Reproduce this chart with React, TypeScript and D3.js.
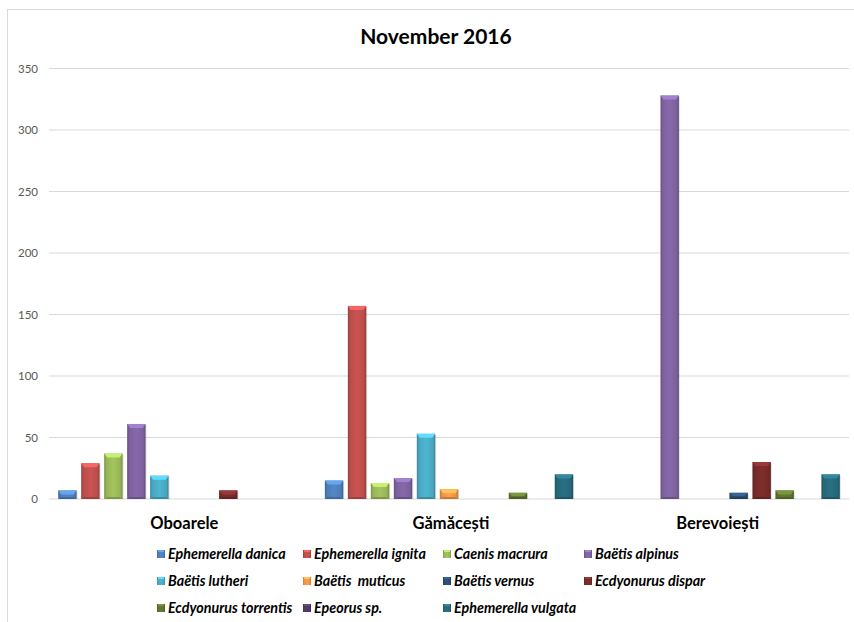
import React from "react";
import * as d3 from "d3";

// Sampling sites (x-axis categories)
const sites = ["Oboarele", "Gămăcești", "Berevoiești"];

// Species (series), in legend order
const species = [
  "Ephemerella danica",
  "Ephemerella ignita",
  "Caenis macrura",
  "Baëtis alpinus",
  "Baëtis lutheri",
  "Baëtis  muticus",
  "Baëtis vernus",
  "Ecdyonurus dispar",
  "Ecdyonurus torrentis",
  "Epeorus sp.",
  "Ephemerella vulgata",
];

// Counts per species, one value per site
const ephemerellaDanica = [7, 15, 0];
const ephemerellaIgnita = [29, 157, 0];
const caenisMacrura = [37, 13, 0];
const baetisAlpinus = [61, 17, 328];
const baetisLutheri = [19, 53, 0];
const baetisMuticus = [0, 8, 0];
const baetisVernus = [0, 0, 5];
const ecdyonurusDispar = [7, 0, 30];
const ecdyonurusTorrentis = [0, 5, 7];
const epeorusSp = [0, 0, 0];
const ephemerellaVulgata = [0, 20, 20];

const seriesValues = [
  ephemerellaDanica,
  ephemerellaIgnita,
  caenisMacrura,
  baetisAlpinus,
  baetisLutheri,
  baetisMuticus,
  baetisVernus,
  ecdyonurusDispar,
  ecdyonurusTorrentis,
  epeorusSp,
  ephemerellaVulgata,
];

const colors = [
  "#4F81BD",
  "#C0504D",
  "#9BBB59",
  "#8064A2",
  "#4BACC6",
  "#F79646",
  "#2C4D75",
  "#772C2A",
  "#5F7530",
  "#4D3B62",
  "#276A7C",
];

const yTicks = [0, 50, 100, 150, 200, 250, 300, 350];
const title = "November 2016";

const W = 854;
const H = 622;
const plot = { left: 49, right: 849, top: 68.5, bottom: 499 };
const FONT = "Lato, 'Open Sans', 'DejaVu Sans', sans-serif";

const legendCols = [157, 303, 443, 584];
const legendRows = [554, 581, 608];

export default function App() {
  const x0 = d3.scaleBand<string>().domain(sites).range([plot.left, plot.right]).padding(0);
  const x1 = d3
    .scaleBand<string>()
    .domain(species)
    .range([0, x0.bandwidth()])
    .paddingInner(0.2)
    .paddingOuter(0.4);
  const y = d3.scaleLinear().domain([0, 350]).range([plot.bottom, plot.top]);

  const bars: { key: string; x: number; w: number; top: number; i: number }[] = [];
  sites.forEach((site, si) => {
    species.forEach((sp, i) => {
      const v = seriesValues[i][si];
      if (v > 0) {
        bars.push({
          key: `${site}-${sp}`,
          x: (x0(site) ?? 0) + (x1(sp) ?? 0),
          w: x1.bandwidth(),
          top: y(v),
          i,
        });
      }
    });
  });

  return (
    <svg
      width={W}
      height={H}
      style={{ position: "absolute", left: 0, top: 0, background: "#fff" }}
      fontFamily={FONT}
    >
      <defs>
        {colors.map((c, i) => {
          const base = d3.color(c)!;
          return (
            <linearGradient key={i} id={`g${i}`} x1="0" x2="1" y1="0" y2="0">
              <stop offset="0" stopColor={base.darker(0.7).formatHex()} />
              <stop offset="0.12" stopColor={base.darker(0.1).formatHex()} />
              <stop offset="0.5" stopColor={base.brighter(0.15).formatHex()} />
              <stop offset="0.88" stopColor={base.darker(0.1).formatHex()} />
              <stop offset="1" stopColor={base.darker(0.8).formatHex()} />
            </linearGradient>
          );
        })}
      </defs>

      {/* chart frame */}
      <rect x={7.5} y={9.5} width={W + 20} height={H + 20} fill="none" stroke="#d9d9d9" strokeWidth={1} />

      {/* title */}
      <text x={436} y={44} textAnchor="middle" fontSize={21} fontWeight="bold" fill="#000">
        {title}
      </text>

      {/* gridlines and y tick labels */}
      {yTicks.map((t) => (
        <g key={t}>
          <line x1={plot.left} x2={plot.right} y1={y(t)} y2={y(t)} stroke="#d9d9d9" strokeWidth={1.2} />
          <text x={38} y={y(t) + 4} textAnchor="end" fontSize={11.5} fill="#595959">
            {t}
          </text>
        </g>
      ))}

      {/* bars with bevel look */}
      {bars.map((b) => {
        const c = d3.color(colors[b.i])!;
        const h = plot.bottom - b.top;
        const bev = Math.min(4, h / 2);
        return (
          <g key={b.key}>
            <rect x={b.x + 1} y={b.top + 1} width={b.w} height={h - 1} fill="#000" opacity={0.12} />
            <rect x={b.x} y={b.top} width={b.w} height={h} fill={`url(#g${b.i})`} />
            <polygon
              points={`${b.x},${b.top} ${b.x + b.w},${b.top} ${b.x + b.w - 3},${b.top + bev} ${b.x + 3},${b.top + bev}`}
              fill={c.brighter(0.7).formatHex()}
            />
            <polygon
              points={`${b.x},${plot.bottom} ${b.x + b.w},${plot.bottom} ${b.x + b.w - 3},${plot.bottom - Math.min(2, h / 3)} ${b.x + 3},${plot.bottom - Math.min(2, h / 3)}`}
              fill={c.darker(0.6).formatHex()}
            />
          </g>
        );
      })}

      {/* category labels */}
      {sites.map((s) => (
        <text
          key={s}
          x={(x0(s) ?? 0) + x0.bandwidth() / 2 + 2}
          y={529}
          textAnchor="middle"
          fontSize={16.5}
          fontWeight="bold"
          fill="#000"
        >
          {s}
        </text>
      ))}

      {/* legend */}
      {species.map((sp, i) => {
        const col = i % 4;
        const row = Math.floor(i / 4);
        const lx = legendCols[col];
        const ly = legendRows[row];
        return (
          <g key={sp}>
            <rect x={lx} y={ly - 4} width={8} height={8} fill={`url(#g${i})`} />
            <rect x={lx + 1} y={ly - 4} width={6} height={2} fill={d3.color(colors[i])!.brighter(0.7).formatHex()} />
            <text
              x={lx + 11}
              y={ly + 5}
              fontSize={14.3}
              fontWeight="bold"
              fontStyle="italic"
              fill="#000"
              style={{ whiteSpace: "pre" }}
            >
              {sp}
            </text>
          </g>
        );
      })}
    </svg>
  );
}
